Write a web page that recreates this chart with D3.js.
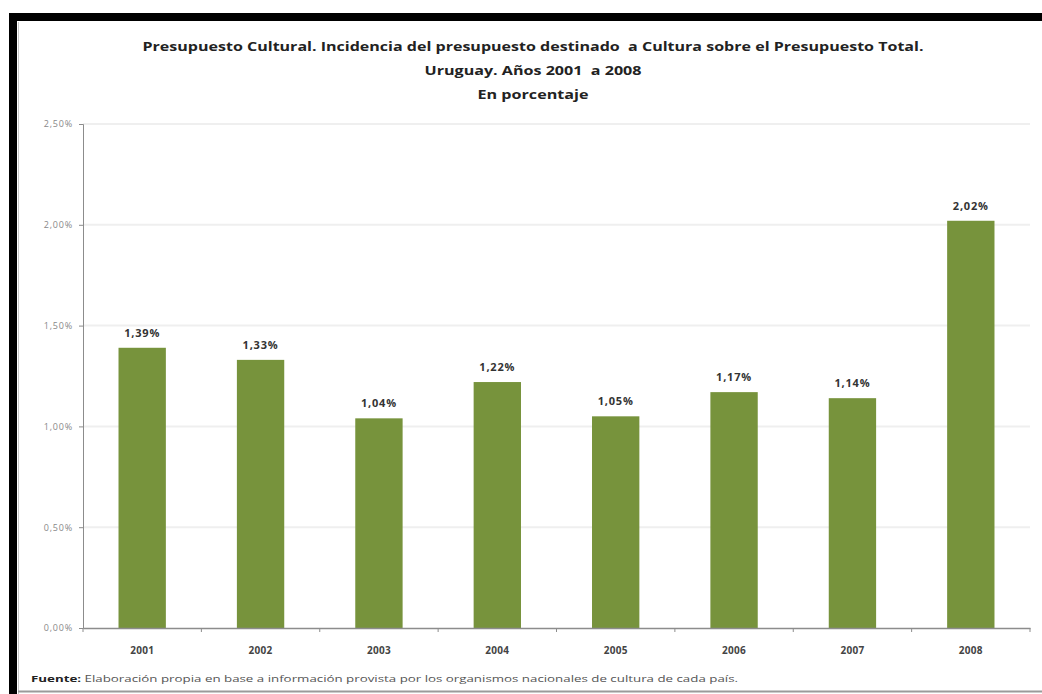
<!DOCTYPE html>
<html>
<head>
<meta charset="utf-8">
<script src="https://cdn.jsdelivr.net/npm/d3@7"></script>
<style>
  body { margin: 0; background: #fff; }
  svg { display: block; font-family: "Open Sans", "Noto Sans", sans-serif; }
</style>
</head>
<body>
<div id="chart"></div>
<script>
// Data
const years = ["2001", "2002", "2003", "2004", "2005", "2006", "2007", "2008"];
const shares = [1.39, 1.33, 1.04, 1.22, 1.05, 1.17, 1.14, 2.02];
const yTicks = [0, 0.5, 1, 1.5, 2, 2.5];
const titleLines = [
  "Presupuesto Cultural. Incidencia del presupuesto destinado  a Cultura sobre el Presupuesto Total.",
  "Uruguay. Años 2001  a 2008",
  "En porcentaje"
];
// the picture is stretched sideways, so the text is fitted to the widths seen there
const titleWidths = [781, 217, 111];
const sourceLabel = "Fuente:";
const sourceText = " Elaboración propia en base a información provista por los organismos nacionales de cultura de cada país.";

const width = 1042;
const height = 694;
const margin = { top: 124, right: 12, bottom: 66, left: 83 };
const plotRight = 1030;

const pct = v => d3.format(".2f")(v).replace(".", ",") + "%";

const svg = d3.select("#chart")
  .append("svg")
  .attr("width", width)
  .attr("height", height);

// Frame (black edge on top and left, grey on bottom)
svg.append("rect")
  .attr("x", 9).attr("y", 13)
  .attr("width", width).attr("height", 8)
  .attr("fill", "#000");
svg.append("rect")
  .attr("x", 9).attr("y", 13)
  .attr("width", 8).attr("height", height)
  .attr("fill", "#000");
svg.append("line")
  .attr("x1", 18.5).attr("x2", 18.5)
  .attr("y1", 22).attr("y2", height)
  .attr("stroke", "#c8c8c8");
svg.append("line")
  .attr("x1", 18).attr("x2", width)
  .attr("y1", 691.5).attr("y2", 691.5)
  .attr("stroke", "#9a9a9a").attr("stroke-width", 2);

const x = d3.scaleBand()
  .domain(years)
  .range([margin.left, plotRight])
  .paddingInner(0.6)
  .paddingOuter(0.3);

const y = d3.scaleLinear()
  .domain([0, 2.5])
  .range([height - margin.bottom, margin.top]);

// Grid lines
svg.append("g")
  .selectAll("line")
  .data(yTicks.slice(1))
  .enter()
  .append("line")
  .attr("x1", margin.left)
  .attr("x2", plotRight)
  .attr("y1", d => y(d))
  .attr("y2", d => y(d))
  .attr("stroke", "#efefef")
  .attr("stroke-width", 2);

// Bars
svg.append("g")
  .selectAll("rect")
  .data(shares)
  .enter()
  .append("rect")
  .attr("x", (d, i) => x(years[i]))
  .attr("y", d => y(d))
  .attr("width", x.bandwidth())
  .attr("height", d => y(0) - y(d))
  .attr("fill", "#77933c");

// Value labels
svg.append("g")
  .selectAll("text")
  .data(shares)
  .enter()
  .append("text")
  .text(d => pct(d))
  .attr("x", (d, i) => x(years[i]) + x.bandwidth() / 2)
  .attr("y", d => y(d) - 11)
  .attr("text-anchor", "middle")
  .attr("font-size", 11)
  .attr("letter-spacing", 0.8)
  .attr("font-weight", "bold")
  .attr("fill", "#333");

// Y axis
const yAxis = svg.append("g")
  .attr("transform", `translate(${margin.left},0)`)
  .call(d3.axisLeft(y).tickValues(yTicks).tickFormat(pct).tickSize(4).tickPadding(6));
yAxis.select(".domain").attr("stroke", "#8c8c8c");
yAxis.selectAll(".tick line").attr("stroke", "#8c8c8c");
yAxis.selectAll(".tick text")
  .attr("font-size", 9)
  .attr("letter-spacing", 0.8)
  .attr("fill", "#888")
  .attr("font-family", "Open Sans, sans-serif");

// X axis
const xAxis = svg.append("g")
  .attr("transform", `translate(0,${y(0)})`)
  .call(d3.axisBottom(x).tickSize(0).tickPadding(19));
xAxis.select(".domain").attr("stroke", "#8c8c8c").attr("stroke-width", 1.5);
xAxis.selectAll(".tick text")
  .attr("font-size", 10)
  .attr("letter-spacing", 0.3)
  .attr("font-weight", "bold")
  .attr("fill", "#444")
  .attr("font-family", "Open Sans, sans-serif");

// Category separators on x axis
svg.append("g")
  .selectAll("line")
  .data(d3.range(years.length + 1))
  .enter()
  .append("line")
  .attr("x1", i => margin.left + i * x.step())
  .attr("x2", i => margin.left + i * x.step())
  .attr("y1", y(0))
  .attr("y2", y(0) + 4)
  .attr("stroke", "#8c8c8c");

// Title
svg.append("g")
  .selectAll("text")
  .data(titleLines)
  .enter()
  .append("text")
  .text(d => d)
  .attr("x", 533)
  .attr("y", (d, i) => 51 + i * 24)
  .attr("text-anchor", "middle")
  .attr("textLength", (d, i) => titleWidths[i])
  .attr("lengthAdjust", "spacingAndGlyphs")
  .style("white-space", "pre")
  .attr("font-size", 12.5)
  .attr("font-weight", "bold")
  .attr("fill", "#222");

// Source note
const src = svg.append("text")
  .attr("x", 31)
  .attr("y", 682)
  .attr("font-size", 9)
  .attr("textLength", 707)
  .attr("lengthAdjust", "spacingAndGlyphs")
  .attr("fill", "#555");
src.append("tspan").attr("font-weight", "bold").attr("fill", "#222").text(sourceLabel);
src.append("tspan").text(sourceText);
</script>
</body>
</html>
